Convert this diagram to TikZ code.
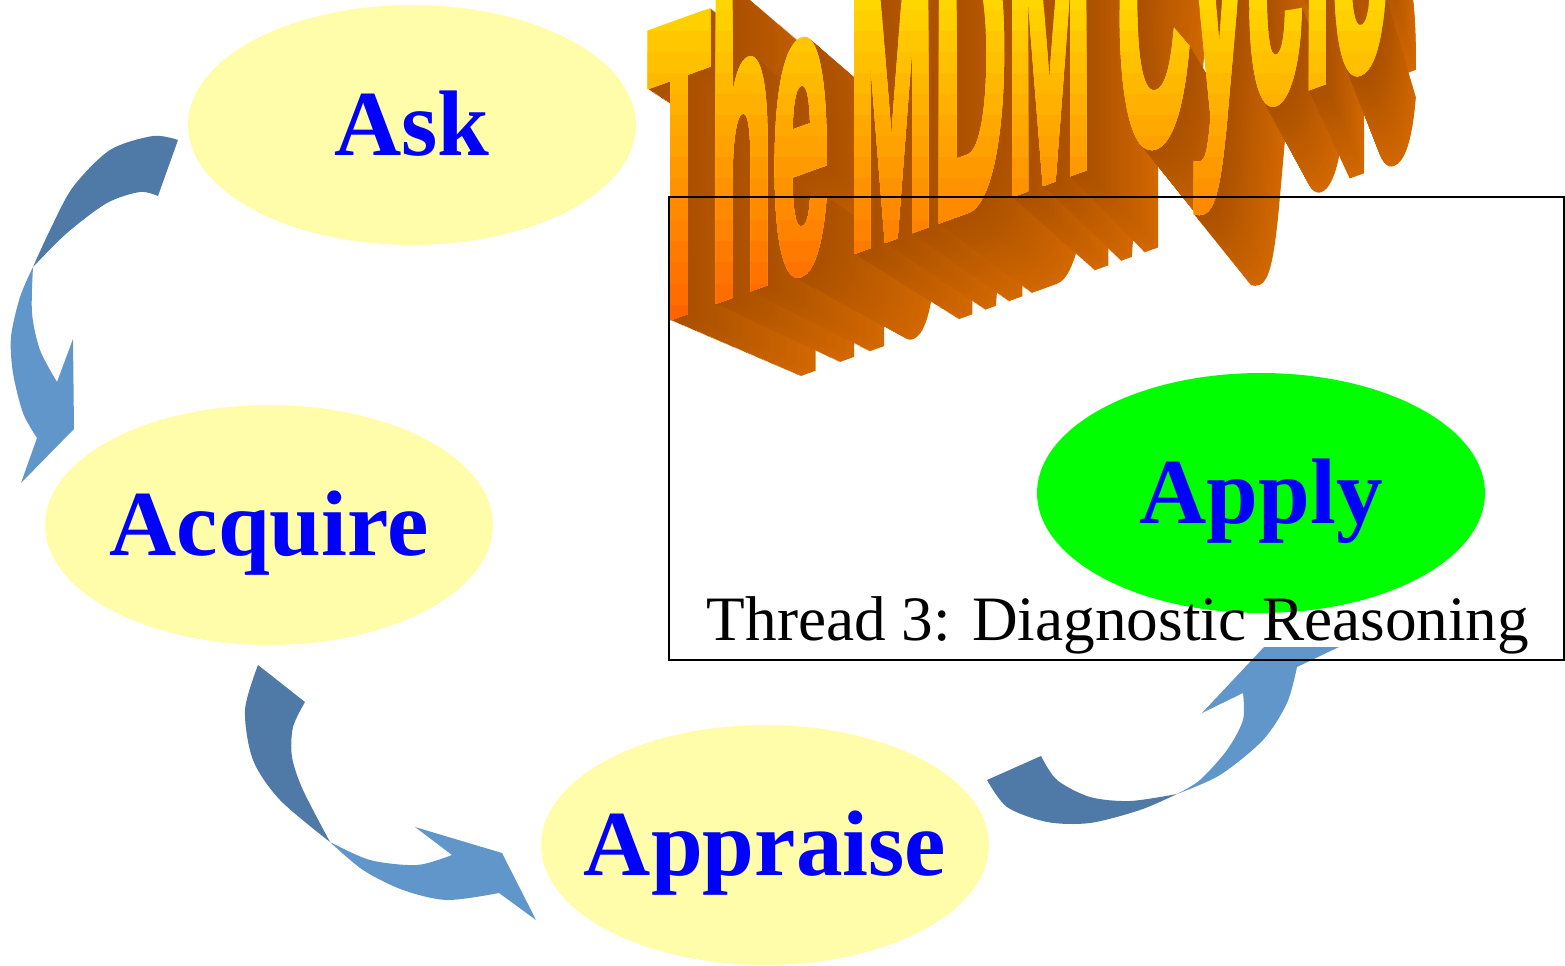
\documentclass[tikz,border=0pt]{standalone}
\usepackage{fontspec}
\setmainfont{Liberation Serif}
\newfontfamily\titelfont[BoldFeatures={FakeBold=3}]{Liberation Sans}
\usetikzlibrary{shapes.geometric}

\definecolor{gelb}{RGB}{255,252,170}
\definecolor{gruen}{RGB}{0,255,0}
\definecolor{pfeildunkel}{RGB}{79,122,167}
\definecolor{pfeilhell}{RGB}{97,150,202}
\definecolor{titeloben}{RGB}{255,214,0}
\definecolor{titelunten}{RGB}{255,92,0}
\definecolor{kantehell}{RGB}{210,104,0}
\definecolor{kantedunkel}{RGB}{170,80,0}

\newcommand{\titeltext}{The\hspace{0.2em}MDM\hspace{0.25em}Cycle}

\tikzset{
  phase/.style={ellipse, fill=gelb, inner sep=0pt,
    minimum width=8.96cm, minimum height=4.8cm},
  beschriftung/.style={text=blue, inner sep=0pt,
    font=\bfseries\fontsize{53}{53}\selectfont,
    text height=35pt, text depth=0pt},
  titel/.style={anchor=base west, inner sep=0pt, xscale=0.245, transform shape,
    font=\titelfont\bfseries\fontsize{236}{236}\selectfont}
}

\begin{document}
\begin{tikzpicture}[x=0.02cm, y=-0.02cm]
    \useasboundingbox (0,0) rectangle (1565,966);
    \clip (0,0) rectangle (1565,966);
    % Titel: Kante (perspektivisch)
    \foreach \k in {120,119,...,1}{
      \pgfmathsetmacro\s{1-0.14*\k/120}
      \pgfmathtruncatemacro\anteil{100*\k/120}
      \begin{scope}[shift={(1600,720)}, scale=\s, shift={(-1600,-720)}]
        \begin{scope}[shift={(648,322)}, yslant=0.36]
          \node[titel, text=kantehell!\anteil!kantedunkel] (kante) at (0,0) {\titeltext};
        \end{scope}
      \end{scope}
    }
    % Titel: Vorderseite mit Verlauf
    \foreach \i in {0,...,16}{
      \pgfmathtruncatemacro\anteil{100*\i/16}
      \begin{scope}
        \clip (600,-10+21*\i) rectangle (1500,420);
        \begin{scope}[shift={(648,322)}, yslant=0.36]
          \node[titel, text=titelunten!\anteil!titeloben] (titel) at (0,0) {\titeltext};
        \end{scope}
      \end{scope}
    }
    % Phasen
    \node[phase] (ask) at (412,125) {};
    \node[beschriftung] (ask-text) at (ask) {Ask};
    \node[phase] (acquire) at (269,525) {};
    \node[beschriftung] (acquire-text) at (acquire) {Acquire};
    \node[phase] (appraise) at (765,845) {};
    \node[beschriftung] (appraise-text) at (appraise) {Appraise};
    \node[phase, fill=gruen] (apply) at (1261,493) {};
    \node[beschriftung] (apply-text) at (apply) {Apply};
    % Pfeil Ask -> Acquire
    \fill[pfeildunkel] plot[smooth] coordinates {(178,140) (153,136) (110,150) (73,187) (50,230) (33,267)}
      -- plot[smooth] coordinates {(33,267) (67,233) (107,203) (140,192) (158,196)} -- cycle;
    \fill[pfeilhell] plot[smooth] coordinates {(33,267) (20,297) (11,337) (13,373) (23,413) (37,438)}
      -- (21,483) -- (74,429) -- (73,339)
      -- plot[smooth] coordinates {(57,382) (40,350) (32,313) (33,267)} -- cycle;
    % Pfeil Acquire -> Appraise
    \fill[pfeildunkel] plot[smooth] coordinates {(258,665) (245,710) (253,760) (280,800) (330,842)}
      -- plot[smooth] coordinates {(330,842) (303,790) (292,757) (293,727) (305,702)} -- cycle;
    \fill[pfeilhell] plot[smooth] coordinates {(330,842) (370,860) (417,865) (452,855)}
      -- (415,827) -- (502,853) -- (536,920) -- (499,893)
      -- plot[smooth] coordinates {(499,893) (447,900) (403,890) (363,870) (330,842)} -- cycle;
    % Pfeil Appraise -> Apply
    \fill[pfeildunkel] plot[smooth] coordinates {(987,780) (1007,807) (1047,822) (1090,823) (1140,810) (1177,794)}
      -- plot[smooth] coordinates {(1177,794) (1130,801) (1090,797) (1057,780) (1041,756)} -- cycle;
    \fill[pfeilhell] plot[smooth] coordinates {(1177,794) (1220,775) (1263,740) (1287,703) (1297,667)}
      -- (1339,647) -- (1264,647) -- (1202,713)
      -- plot[smooth] coordinates {(1243,693) (1243,720) (1227,750) (1200,780) (1177,794)} -- cycle;
    % Rahmen und Thread
    \draw[line width=0.8pt] (669,197) rectangle (1564,660);
    \node[anchor=base, inner sep=0pt, font=\fontsize{36}{36}\selectfont] (faden) at (1118,640) {Thread 3: Diagnostic Reasoning};
\end{tikzpicture}
\end{document}
